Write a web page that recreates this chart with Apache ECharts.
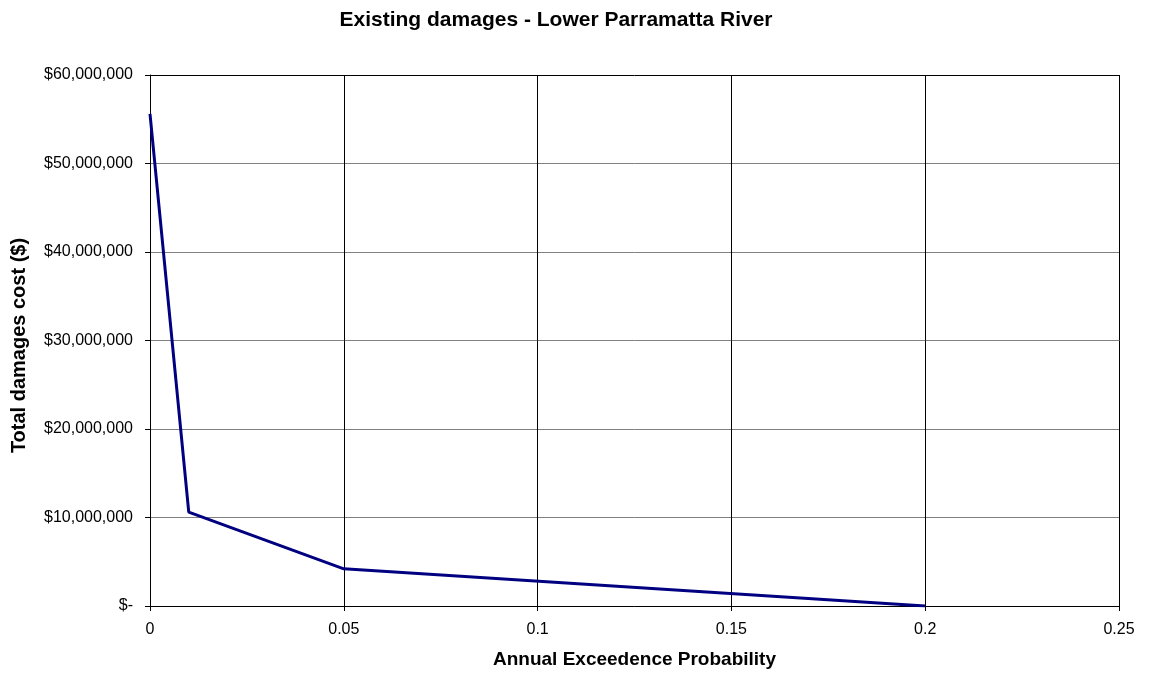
<!DOCTYPE html>
<html>
<head>
<meta charset="utf-8">
<script src="https://cdn.jsdelivr.net/npm/echarts@6/dist/echarts.min.js"></script>
<style>
html,body{margin:0;padding:0;background:#fff;}
#chart{width:1151px;height:674px;}
</style>
</head>
<body>
<div id="chart"></div>
<script>
const titleText = 'Existing damages - Lower Parramatta River';
const xAxisTitle = 'Annual Exceedence Probability';
const yAxisTitle = 'Total damages cost ($)';
const aep = [0, 0.01, 0.05, 0.2];
const damages = [55600000, 10600000, 4200000, 0];
const xTicks = [0, 0.05, 0.1, 0.15, 0.2, 0.25];
const yTicks = [0, 10000000, 20000000, 30000000, 40000000, 50000000, 60000000];

const FONT = '"Liberation Sans", Arial, sans-serif';
const chart = echarts.init(document.getElementById('chart'), null, {renderer: 'canvas'});
const points = aep.map((x, i) => [x, damages[i]]);

chart.setOption({
  animation: false,
  backgroundColor: '#ffffff',
  title: {
    text: titleText,
    left: 551, top: 5,
    textAlign: 'center',
    textStyle: {fontFamily: FONT, fontSize: 21, fontWeight: 'bold', color: '#000'}
  },
  grid: {left: 150, top: 75, right: 32, bottom: 68, containLabel: false, outerBoundsMode: 'none'},
  xAxis: {
    type: 'value',
    min: xTicks[0], max: xTicks[xTicks.length - 1], interval: 0.05,
    name: xAxisTitle,
    nameLocation: 'middle',
    nameGap: 44,
    nameTextStyle: {fontFamily: FONT, fontSize: 19, fontWeight: 'bold', color: '#000'},
    axisLine: {show: true, lineStyle: {color: '#000', width: 1}},
    axisTick: {show: true, length: 5, lineStyle: {color: '#000'}},
    axisLabel: {fontFamily: FONT, fontSize: 16, color: '#000', margin: 16,
      formatter: v => String(Math.round(v * 100) / 100)},
    splitLine: {show: true, lineStyle: {color: '#000', width: 1}}
  },
  yAxis: {
    type: 'value',
    min: yTicks[0], max: yTicks[yTicks.length - 1], interval: 10000000,
    name: yAxisTitle,
    nameLocation: 'middle',
    nameGap: 121,
    nameRotate: 90,
    nameTextStyle: {fontFamily: FONT, fontSize: 20, fontWeight: 'bold', color: '#000', padding: [0, 10, 0, 0]},
    axisLine: {show: true, lineStyle: {color: '#000', width: 1}},
    axisTick: {show: true, length: 5, lineStyle: {color: '#000'}},
    axisLabel: {fontFamily: FONT, fontSize: 16, color: '#000', margin: 17,
      formatter: v => v === 0 ? '$-' : '$' + v.toLocaleString('en-US')},
    splitLine: {show: true, lineStyle: {color: ['#808080','#808080','#808080','#808080','#808080','#808080','#000000'], width: 1}}
  },
  series: [{
    type: 'line',
    data: points,
    symbol: 'none',
    lineStyle: {color: '#000080', width: 3},
    itemStyle: {color: '#000080'}
  }]
});
</script>
</body>
</html>
